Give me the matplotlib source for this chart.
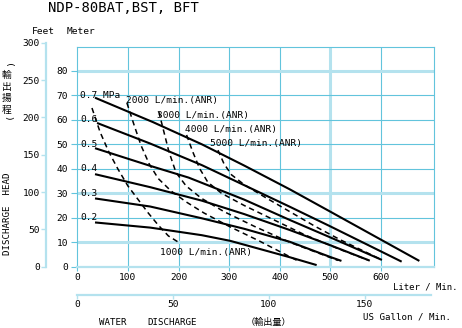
import numpy as np
import matplotlib.pyplot as plt

plt.rcParams['font.family'] = ['DejaVu Sans Mono', 'Noto Sans CJK JP']

# ---- pressure curves: flow (L/min) vs head (m) ----
p_names = ['0.7 MPa', '0.6', '0.5', '0.4', '0.3', '0.2']
p_name_y = [70, 60, 50, 40, 30, 20]
q_07 = [35, 150, 246, 330, 420, 500, 676]
h_07 = [69, 59, 50, 41.3, 31.6, 22.5, 2.4]
q_06 = [39, 144, 246, 420, 500, 641]
h_06 = [58.7, 50.3, 41.5, 24.5, 16.5, 2.1]
q_05 = [35, 144, 220, 330, 420, 500, 602]
h_05 = [48.4, 41.2, 36.4, 27.4, 19.1, 12.0, 2.8]
q_04 = [35, 144, 246, 330, 420, 500, 578]
h_04 = [37.8, 32.5, 27, 21.5, 15, 8.8, 2.5]
q_03 = [35, 144, 246, 330, 420, 500, 522]
h_03 = [27.9, 24.6, 19.8, 15.5, 10.2, 4.0, 2.4]
q_02 = [35, 144, 246, 302, 420, 473]
h_02 = [18.1, 16.0, 12.9, 10.6, 3.9, 0.7]

# ---- air consumption lines ----
a_names = ['1000 L/min.(ANR)', '2000 L/min.(ANR)', '3000 L/min.(ANR)',
           '4000 L/min.(ANR)', '5000 L/min.(ANR)']
a_name_xy = [(163, 5.8), (96, 67.8), (157, 61.8), (213, 56.2), (262, 50.4)]
aq_1000 = [29, 45, 62, 80, 100, 120, 140, 160, 180, 204]
ah_1000 = [64.8, 55, 47, 40, 33, 27.5, 22, 17, 12.6, 9.5]
aq_2000 = [98, 112, 126, 142, 160, 185, 215, 250, 300, 360, 436]
ah_2000 = [66.9, 58, 49.5, 42, 36, 31, 26.5, 22, 16.5, 10.5, 2.4]
aq_3000 = [161, 170, 181, 195, 215, 245, 290, 350, 420, 515]
ah_3000 = [63.3, 56, 47, 38.5, 33, 28, 22.5, 16.5, 10, 2.6]
aq_4000 = [216, 228, 242, 258, 285, 330, 390, 450, 520, 574]
ah_4000 = [53.8, 47, 40, 34.5, 30, 25, 19, 13, 7, 2.8]
aq_5000 = [278, 290, 305, 330, 370, 420, 470, 520, 560, 598]
ah_5000 = [47.6, 42, 37.5, 33.5, 28.5, 22.5, 16.5, 11, 7, 3.2]

# ---- axes ticks ----
m_ticks = [0, 10, 20, 30, 40, 50, 60, 70, 80]
ft_ticks = [0, 50, 100, 150, 200, 250, 300]
l_ticks = [0, 100, 200, 300, 400, 500, 600]
g_ticks = [0, 50, 100, 150]

thin = '#62c4dc'
thick = '#b4e2ee'

W, H = 462, 328
def fx(px):
    return px / W
def fy(py):
    return 1 - py / H

fig = plt.figure(figsize=(4.62, 3.28), dpi=100)

x0, x1, y0, y1 = 77.3, 434.3, 266.8, 46.5
ax = fig.add_axes([fx(x0), fy(y0), (x1 - x0) / W, (y0 - y1) / H])
ax.set_xlim(0, 705.5)
ax.set_ylim(0, 89.9)

for v in [100, 200, 300, 400, 600]:
    ax.axvline(v, color=thin, lw=0.8, zorder=1)
ax.axvline(500, color=thick, lw=2.2, zorder=1)
for v in [20, 40, 50, 60, 70]:
    ax.axhline(v, color=thin, lw=0.8, zorder=1)
for v in [10, 30, 80]:
    ax.axhline(v, color=thick, lw=2.2, zorder=1)

for s in ['left', 'top', 'right']:
    ax.spines[s].set_color(thin)
    ax.spines[s].set_linewidth(0.8)
ax.spines['bottom'].set_color(thick)
ax.spines['bottom'].set_linewidth(1.6)

ax.set_yticks(m_ticks)
ax.set_xticks(l_ticks)
ax.tick_params(axis='y', direction='out', length=4, width=0.8, color=thin, pad=2.5, labelsize=6.8)
ax.tick_params(axis='x', direction='out', length=3, width=0.8, color=thin, pad=1.5, labelsize=6.8)

curves = [(q_07, h_07), (q_06, h_06), (q_05, h_05), (q_04, h_04), (q_03, h_03), (q_02, h_02)]
for q, h in curves:
    ax.plot(q, h, color='black', lw=1.5, solid_capstyle='butt', solid_joinstyle='round', zorder=3)
for name, yy in zip(p_names, p_name_y):
    ax.text(5.3, yy, name, fontsize=6.8, va='center', ha='left', zorder=4)

air = [(aq_1000, ah_1000), (aq_2000, ah_2000), (aq_3000, ah_3000),
       (aq_4000, ah_4000), (aq_5000, ah_5000)]
for q, h in air:
    ax.plot(q, h, color='black', lw=1.1, dashes=(3.5, 2.5), zorder=3)
for name, (xx, yy) in zip(a_names, a_name_xy):
    ax.text(xx, yy, name, fontsize=6.8, va='center', ha='left', zorder=4)

# feet axis
axf = fig.add_axes([fx(46), fy(y0), 0.0001, 91.44 * 2.45 / H])
axf.set_ylim(0, 300)
axf.set_xticks([])
for s in ['top', 'right', 'bottom']:
    axf.spines[s].set_visible(False)
axf.spines['left'].set_color(thick)
axf.spines['left'].set_linewidth(1.6)
axf.set_yticks(ft_ticks)
axf.tick_params(axis='y', direction='out', length=3.5, width=1.0, color=thick, pad=0.8, labelsize=6.8)
axf.patch.set_visible(False)

# US gallon axis
axg = fig.add_axes([fx(x0), fy(295), (x1 - x0 - 3) / W, 0.0001])
axg.set_xlim(0, (705.5 - 6) / 3.78541)
axg.set_yticks([])
for s in ['top', 'right', 'left']:
    axg.spines[s].set_visible(False)
axg.spines['bottom'].set_color(thick)
axg.spines['bottom'].set_linewidth(1.6)
axg.set_xticks(g_ticks)
axg.tick_params(axis='x', direction='out', length=3, width=1.0, color=thick, pad=0.5, labelsize=6.8)
axg.patch.set_visible(False)

# texts
fig.text(fx(48), fy(8.5), 'NDP-80BAT,BST, BFT', fontsize=10, va='center', ha='left')
fig.text(fx(32), fy(31), 'Feet', fontsize=6.8, va='center', ha='left')
fig.text(fx(67), fy(31), 'Meter', fontsize=6.8, va='center', ha='left')
fig.text(fx(393), fy(287), 'Liter / Min.', fontsize=6.5, va='center', ha='left')
fig.text(fx(363), fy(316.7), 'US Gallon / Min.', fontsize=6.6, va='center', ha='left')
fig.text(fx(99), fy(322.3), 'WATER', fontsize=6.6, va='center', ha='left')
fig.text(fx(147.5), fy(322.3), 'DISCHARGE', fontsize=6.6, va='center', ha='left')
fig.text(fx(246), fy(322.3), '（輸出量）', fontsize=6.6, va='center', ha='left',
         family='Noto Sans CJK JP')
fig.text(fx(7.5), fy(213.5), 'DISCHARGE  HEAD', fontsize=6.6, va='center', ha='center',
         rotation=90)
fig.text(fx(7), fy(65.5), '(', fontsize=6.8, va='center', ha='center', rotation=-90)
for ch, py in zip('輸出揚程', [75, 87, 98, 110]):
    fig.text(fx(7), fy(py), ch, fontsize=7.0, va='center', ha='center', family='Noto Sans CJK JP')
fig.text(fx(7), fy(118.5), ')', fontsize=6.8, va='center', ha='center', rotation=-90)

fig.savefig('out.png', dpi=100)
